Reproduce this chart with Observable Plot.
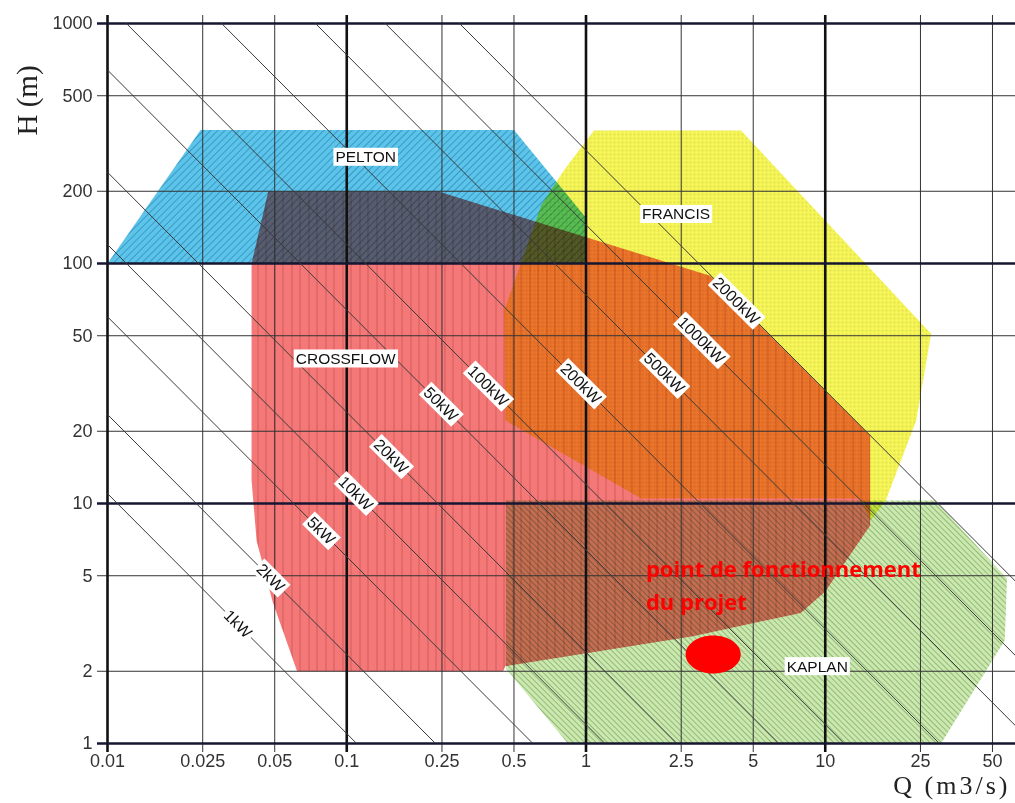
<!DOCTYPE html>
<html><head><meta charset="utf-8">
<script src="https://cdn.jsdelivr.net/npm/d3@7"></script>
<script src="https://cdn.jsdelivr.net/npm/@observablehq/plot@0.6"></script>
<style>html,body{margin:0;padding:0;background:#fff;overflow:hidden}</style>
</head><body><div id="chart"></div>
<script>
// ---- axes ----
const xDomain = [0.01, 62.4];
const yDomain = [1, 1000];
const xTicks = [0.01, 0.025, 0.05, 0.1, 0.25, 0.5, 1, 2.5, 5, 10, 25, 50];
const xTickLabels = ["0.01", "0.025", "0.05", "0.1", "0.25", "0.5", "1", "2.5", "5", "10", "25", "50"];
const xMajor = [0.01, 0.1, 1, 10];
const yTicks = [1, 2, 5, 10, 20, 50, 100, 200, 500, 1000];
const yTickLabels = ["1", "2", "5", "10", "20", "50", "100", "200", "500", "1000"];
const yMajor = [1, 10, 100, 1000];
const xTitle = ["Q (m3/s)"];
const yTitle = ["H (m)"];

// ---- iso-power lines (Q·H product) ----
const powerLabels = ["1kW", "2kW", "5kW", "10kW", "20kW", "50kW", "100kW", "200kW", "500kW", "1000kW", "2000kW"];
const powerQH = [0.11, 0.235, 0.6, 1.2, 2.4, 6.4, 12, 30, 74, 145, 296];
const powerLabelQ = [0.035, 0.048, 0.078, 0.109, 0.153, 0.247, 0.389, 0.95, 2.12, 3.03, 4.24];

// ---- turbine application ranges (Q m3/s, H m) ----
const peltonQ = [0.01, 0.0245, 0.5, 1, 1];
const peltonH = [100, 360, 360, 155, 100];
const crossflowQ = [0.047, 0.24, 3.3, 15.4, 15.4, 10, 7.9, 2.8, 0.46, 0.45, 0.062, 0.049, 0.042, 0.04, 0.04];
const crossflowH = [200, 200, 89, 19.2, 8.1, 4.3, 3.5, 2.8, 2.1, 2, 2, 3.9, 7, 12.5, 100];
const francisQ = [1.08, 4.45, 27.7, 24, 17.9, 15.5, 14, 1.7, 0.46, 0.455, 0.65, 0.81];
const francisH = [358, 358, 51, 22.2, 10.3, 8.5, 10.5, 10.5, 22.2, 63.7, 175, 245];
const kaplanQ = [0.463, 28.8, 57.5, 56.3, 30.5, 0.84, 0.463];
const kaplanH = [10.3, 10.3, 4.87, 2.69, 1, 1, 2.05];

const turbineNames = ["PELTON", "CROSSFLOW", "FRANCIS", "KAPLAN"];
const turbineLabelQ = [0.12, 0.099, 2.38, 9.26];
const turbineLabelH = [277, 40, 160, 2.09];

// ---- project operating point ----
const projectQ = [3.4];
const projectH = [2.35];
const projectNote = ["point de fonctionnement", "du projet"];
const projectNoteQ = [1.78];
const projectNoteH = [4.66];

// ---- build tables ----
const poly = (Q, H) => Q.map((q, i) => ({Q: q, H: H[i]}));
const powerLinePts = powerLabels.flatMap((p, i) => [
  {p, Q: xDomain[0], H: powerQH[i] / xDomain[0]},
  {p, Q: xDomain[1], H: powerQH[i] / xDomain[1]}
]);
const xMinor = xTicks.filter(d => !xMajor.includes(d));
const yMinor = yTicks.filter(d => !yMajor.includes(d));

const ellipseSymbol = {
  draw(ctx, size) {
    const r = Math.sqrt(size / Math.PI), rx = r * 1.45, ry = r, k = 0.5523;
    ctx.moveTo(rx, 0);
    ctx.bezierCurveTo(rx, k * ry, k * rx, ry, 0, ry);
    ctx.bezierCurveTo(-k * rx, ry, -rx, k * ry, -rx, 0);
    ctx.bezierCurveTo(-rx, -k * ry, -k * rx, -ry, 0, -ry);
    ctx.bezierCurveTo(k * rx, -ry, rx, -k * ry, rx, 0);
    ctx.closePath();
  }
};

const region = (Q, H, id) => Plot.line(poly(Q, H), {
  x: "Q", y: "H", curve: "linear-closed", fill: `url(#${id})`, stroke: "none", mixBlendMode: "multiply"
});
const sans = "'Liberation Sans', Arial, sans-serif";
const serif = "'Liberation Serif', 'Times New Roman', serif";

const svg = Plot.plot({
  width: 1015, height: 803,
  marginLeft: 107, marginRight: 0, marginTop: 23, marginBottom: 60,
  style: {fontFamily: sans, fontSize: "18px", color: "#2b2b2b", background: "white"},
  x: {type: "log", domain: xDomain, axis: null},
  y: {type: "log", domain: yDomain, axis: null},
  marks: [
    region(peltonQ, peltonH, "pat-pelton"),
    region(crossflowQ, crossflowH, "pat-crossflow"),
    region(francisQ, francisH, "pat-francis"),
    region(kaplanQ, kaplanH, "pat-kaplan"),
    Plot.ruleX(xMinor, {x: d => d, stroke: "#333", strokeWidth: 1, insetTop: -8, insetBottom: -9}),
    Plot.ruleY(yMinor, {y: d => d, stroke: "#333", strokeWidth: 1, insetLeft: -10}),
    Plot.ruleX(xMajor, {x: d => d, stroke: "#111", strokeWidth: 2.6, insetTop: -8, insetBottom: -9}),
    Plot.ruleY(yMajor, {y: d => d, stroke: "#161630", strokeWidth: 2.6, insetLeft: -10}),
    Plot.text(xTickLabels, {x: (d, i) => xTicks[i], frameAnchor: "bottom", text: d => d, textAnchor: "middle", lineAnchor: "middle", dy: 18, fontSize: 18, fill: "#333"}),
    Plot.text(yTickLabels, {y: (d, i) => yTicks[i], frameAnchor: "left", text: d => d, textAnchor: "end", lineAnchor: "middle", dx: -15, fontSize: 18, fill: "#333"}),
    Plot.line(powerLinePts, {x: "Q", y: "H", z: "p", stroke: "#3a3a3a", strokeWidth: 1, clip: true}),
    Plot.text(powerLabels, {x: (d, i) => powerLabelQ[i], y: (d, i) => powerQH[i] / powerLabelQ[i], text: d => d, rotate: 45, fontSize: 16, fill: "#111"}),
    Plot.text(turbineNames, {x: (d, i) => turbineLabelQ[i], y: (d, i) => turbineLabelH[i], text: d => d, fontSize: 15.5, fill: "#111"}),
    Plot.dot(projectQ, {x: d => d, y: (d, i) => projectH[i], r: 19, symbol: ellipseSymbol, fill: "#ff0000", stroke: "none"}),
    Plot.text([projectNote.join("\n")], {x: () => projectNoteQ[0], y: () => projectNoteH[0], text: d => d, textAnchor: "start", lineAnchor: "middle", lineHeight: 1.5, fontSize: 22, fontWeight: "bold", fontFamily: "'Open Sans', sans-serif", fill: "#ff0000"}),
    Plot.text(yTitle, {frameAnchor: "top-left", text: d => d, textAnchor: "middle", lineAnchor: "middle", dx: -80, dy: 77, rotate: -90, fontSize: 29, fontFamily: serif, fill: "#222"}),
    Plot.text(xTitle, {frameAnchor: "bottom-right", text: d => d, textAnchor: "end", lineAnchor: "middle", dx: -5, dy: 42, fontSize: 26, fontFamily: serif, fill: "#222"})
  ]
});

document.getElementById("chart").appendChild(svg);

// ---- hatch patterns ----
const NS = "http://www.w3.org/2000/svg";
function el(tag, attrs, parent) {
  const e = document.createElementNS(NS, tag);
  for (const k in attrs) e.setAttribute(k, attrs[k]);
  if (parent) parent.appendChild(e);
  return e;
}
const defs = el("defs", {});
svg.insertBefore(defs, svg.firstChild);
let p = el("pattern", {id: "pat-pelton", width: 5, height: 5, patternUnits: "userSpaceOnUse", patternTransform: "rotate(45)"}, defs);
el("rect", {width: 5, height: 5, fill: "#5cc4e8"}, p);
el("line", {x1: 0.5, y1: 0, x2: 0.5, y2: 5, stroke: "#3a98c8", "stroke-width": 1}, p);
p = el("pattern", {id: "pat-crossflow", width: 17, height: 10, patternUnits: "userSpaceOnUse"}, defs);
el("rect", {width: 17, height: 10, fill: "#f47878"}, p);
el("line", {x1: 2.5, y1: 0, x2: 2.5, y2: 10, stroke: "#d05858", "stroke-width": 0.9}, p);
el("line", {x1: 10.5, y1: 0, x2: 10.5, y2: 10, stroke: "#d05858", "stroke-width": 0.9}, p);
p = el("pattern", {id: "pat-francis", width: 4, height: 4, patternUnits: "userSpaceOnUse"}, defs);
el("rect", {width: 4, height: 4, fill: "#f6f658"}, p);
el("circle", {cx: 2, cy: 2, r: 0.7, fill: "#bcbc40"}, p);
p = el("pattern", {id: "pat-kaplan", width: 4, height: 4, patternUnits: "userSpaceOnUse", patternTransform: "rotate(-45)"}, defs);
el("rect", {width: 4, height: 4, fill: "#cce8b0"}, p);
el("line", {x1: 0.5, y1: 0, x2: 0.5, y2: 4, stroke: "#90bc76", "stroke-width": 1}, p);

svg.querySelectorAll('[fill^="url(#pat"]').forEach(e => e.style.mixBlendMode = "multiply");

// x title letter spacing
svg.querySelectorAll("text").forEach(t => {
  if (t.textContent === xTitle[0]) t.style.letterSpacing = "3px";
});

// ---- white boxes behind line / turbine labels ----
const boxed = new Set([...powerLabels, ...turbineNames]);
svg.querySelectorAll("text").forEach(t => {
  if (!boxed.has(t.textContent)) return;
  const b = t.getBBox();
  const r = el("rect", {x: b.x - 2, y: b.y - 0.5, width: b.width + 4, height: b.height + 1, fill: "white"});
  const tr = t.getAttribute("transform");
  if (tr) r.setAttribute("transform", tr);
  t.parentNode.insertBefore(r, t);
});
</script>
</body></html>
